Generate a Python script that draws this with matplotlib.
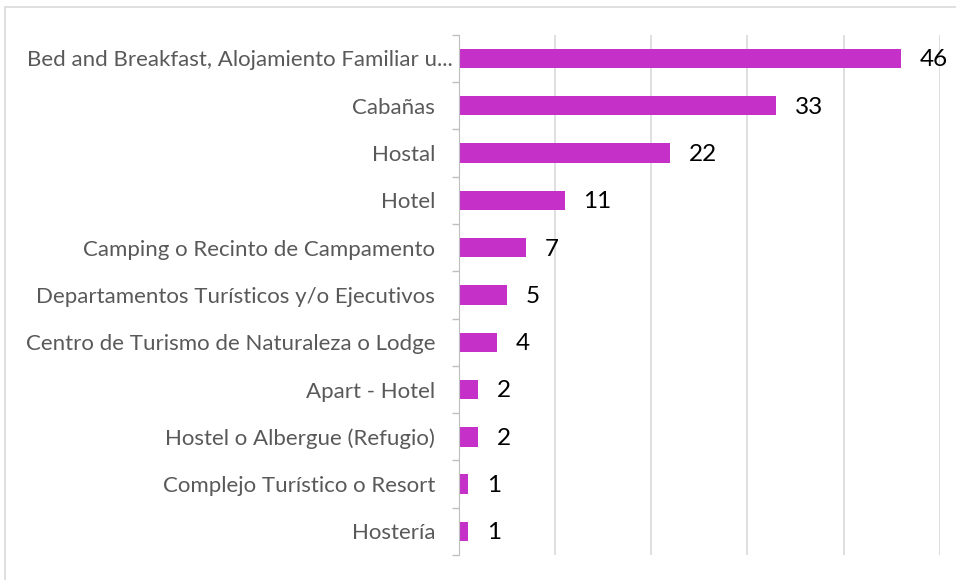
import numpy as np
import matplotlib
matplotlib.use("Agg")
import matplotlib.pyplot as plt
import matplotlib.transforms as mtransforms
from matplotlib.patches import Rectangle

categorias = ["Bed and Breakfast, Alojamiento Familiar u...", "Cabañas", "Hostal", "Hotel",
              "Camping o Recinto de Campamento", "Departamentos Turísticos y/o Ejecutivos",
              "Centro de Turismo de Naturaleza o Lodge", "Apart - Hotel",
              "Hostel o Albergue (Refugio)", "Complejo Turístico o Resort", "Hostería"]
valores = [46, 33, 22, 11, 7, 5, 4, 2, 2, 1, 1]

plt.rcParams['font.family'] = ['Lato', 'DejaVu Sans']

fig = plt.figure(figsize=(9.56, 5.8), dpi=100)
ax = fig.add_axes([0.480, 0.043, 0.503, 0.897])

# marco del grafico
fig.patches.append(Rectangle((5/956, -0.05), 1.0, 1 - 7/580 + 0.05, transform=fig.transFigure,
                             fill=False, edgecolor='#d9d9d9', linewidth=1.2))

y = np.arange(len(categorias))
ax.barh(y, valores, height=0.41, color='#C531C8', zorder=3)
for yi, v in zip(y, valores):
    ax.text(v + 1.9, yi + 0.03, str(v), va='center', ha='left', fontsize=17.5, color='#000000')

ax.set_ylim(len(categorias) - 0.5, -0.5)
ax.set_xlim(0, 50)
ax.set_xticks([0, 10, 20, 30, 40, 50])
ax.xaxis.grid(True, color='#d9d9d9', linewidth=1.2, zorder=0)
ax.tick_params(axis='x', length=0, labelbottom=False)

ax.set_yticks(y)
ax.set_yticklabels(categorias, fontsize=16, color='#595959')
ax.tick_params(axis='y', which='major', length=0, pad=17)
ax.set_yticks(np.arange(-0.5, len(categorias)), minor=True)
ax.tick_params(axis='y', which='minor', length=5, color='#bfbfbf', width=1)

# la etiqueta truncada sobresale un poco hacia el eje
primera = ax.get_yticklabels()[0]
primera.set_transform(primera.get_transform() + mtransforms.ScaledTranslation(17/100, 0, fig.dpi_scale_trans))

for s in ['top', 'right', 'bottom']:
    ax.spines[s].set_visible(False)
ax.spines['left'].set_color('#bfbfbf')
ax.spines['left'].set_zorder(4)

fig.savefig("out.png", dpi=100)
